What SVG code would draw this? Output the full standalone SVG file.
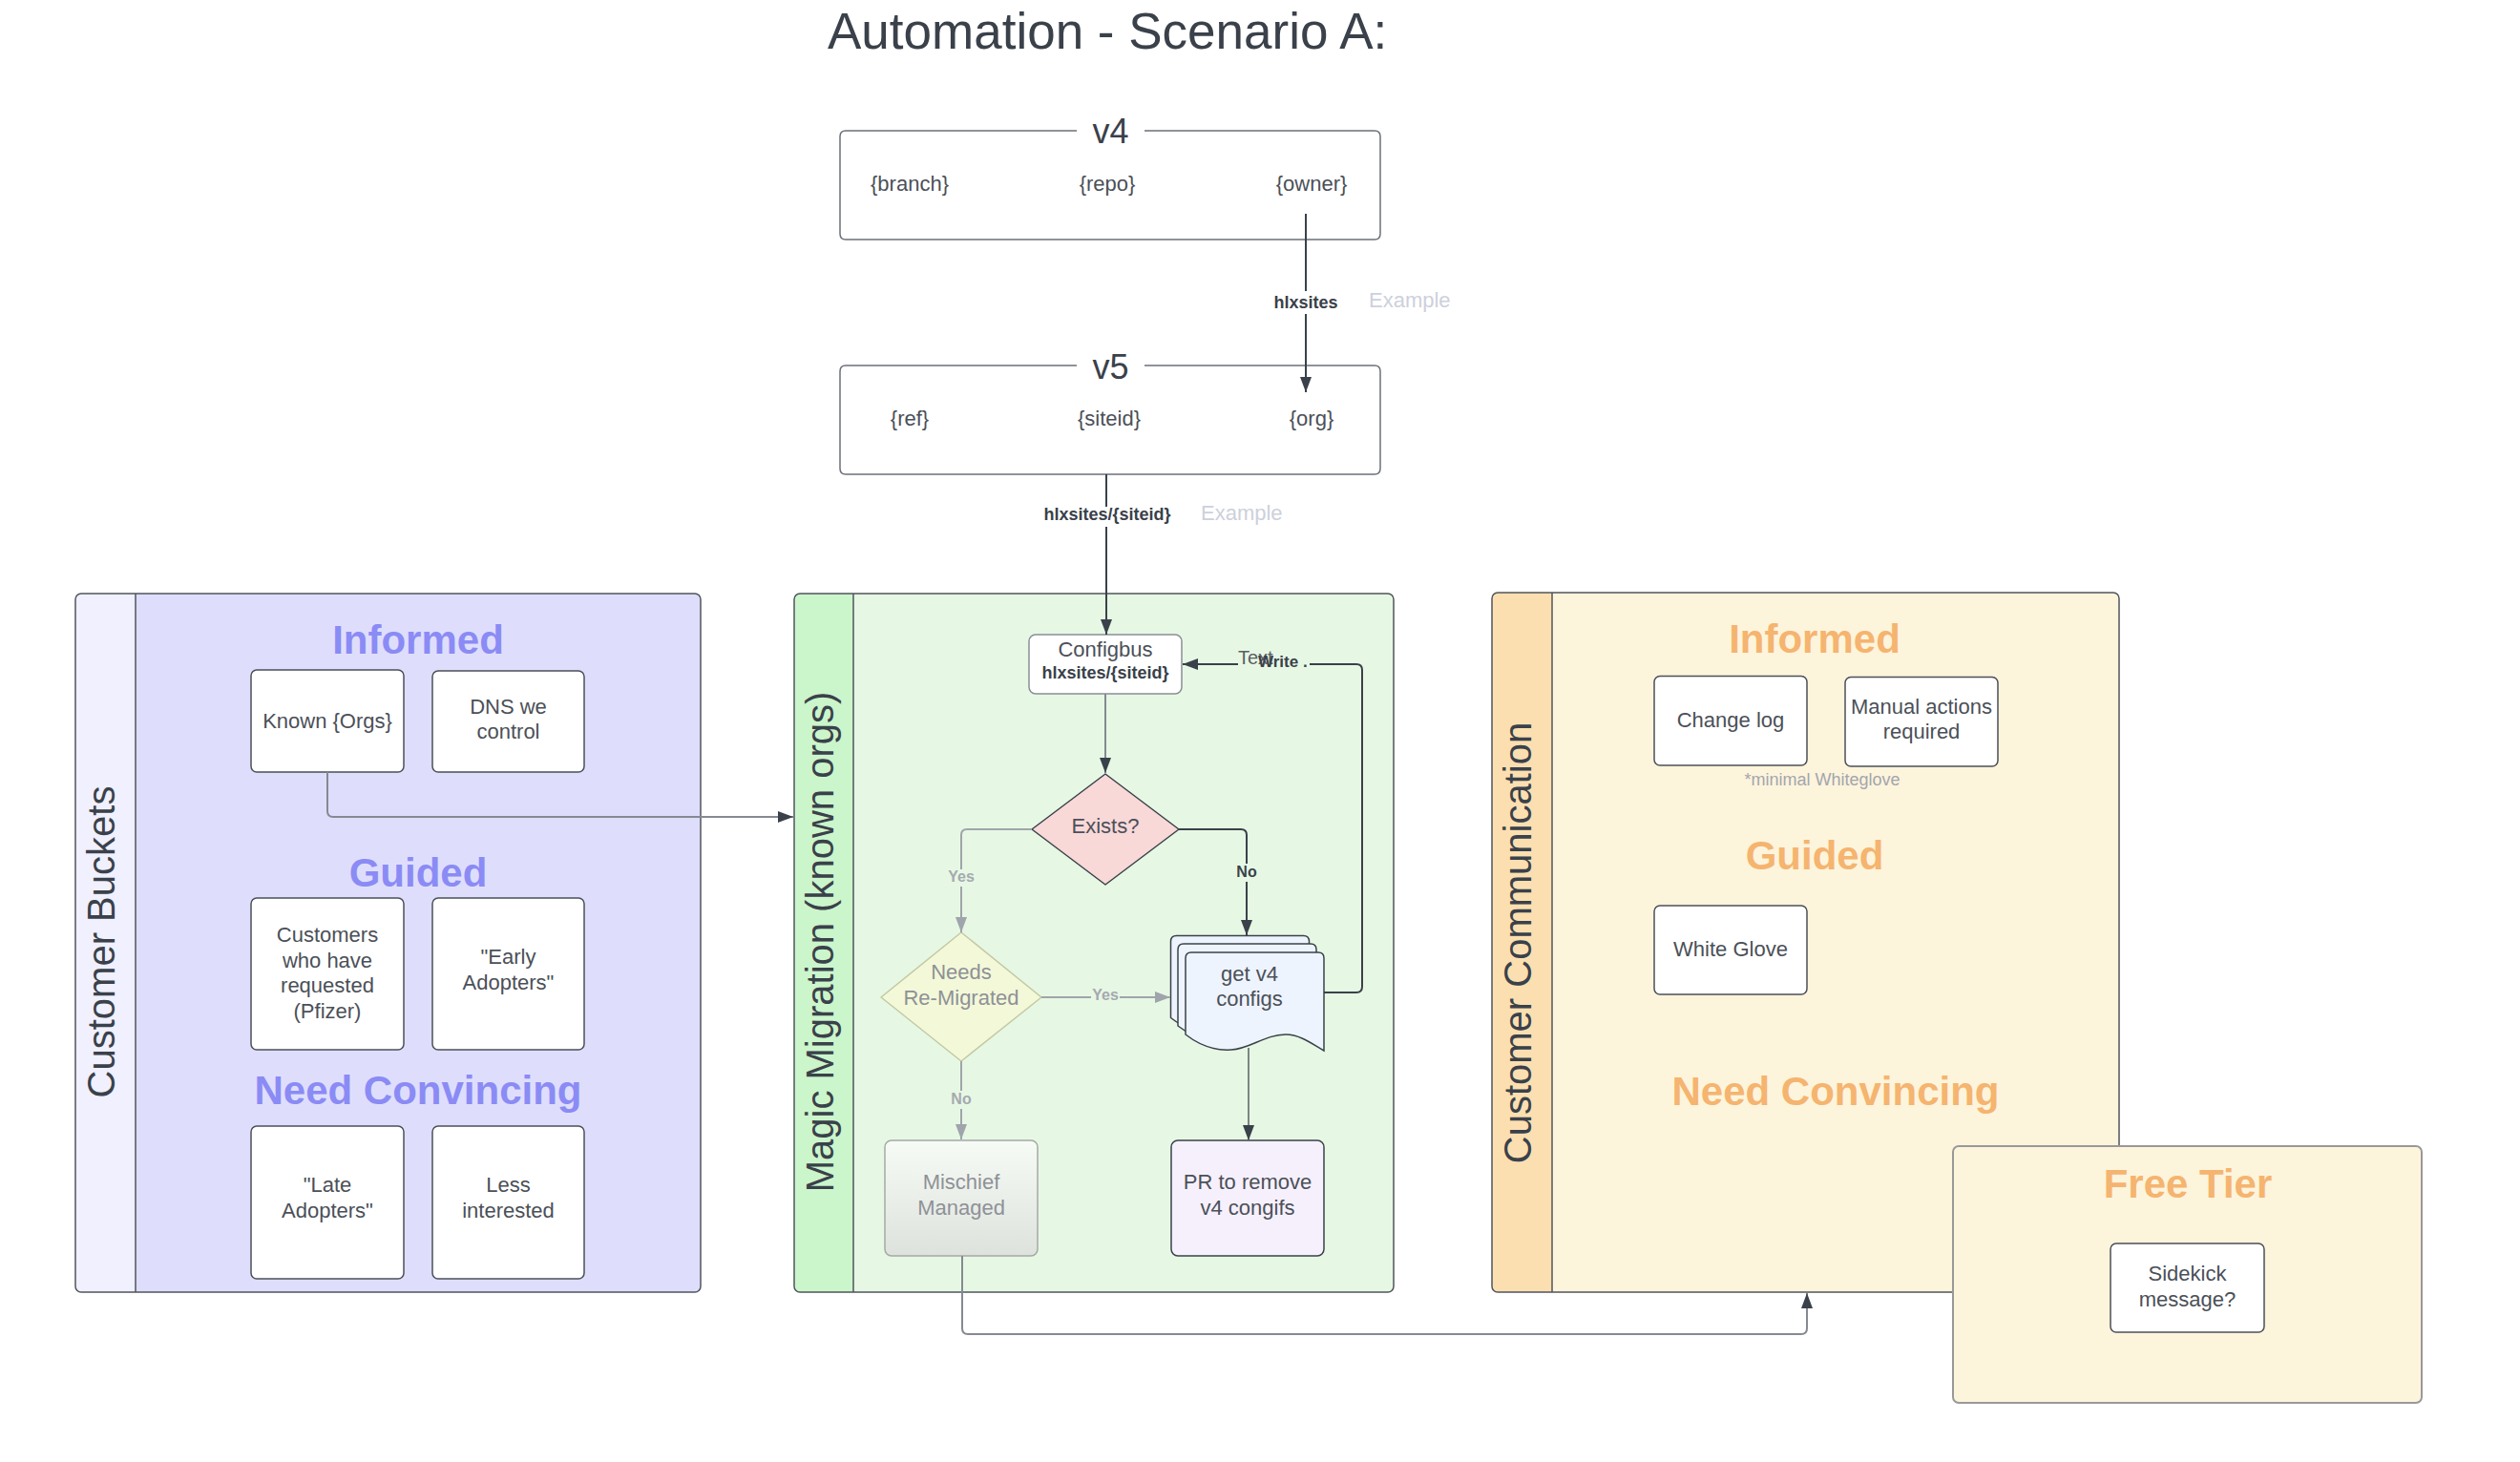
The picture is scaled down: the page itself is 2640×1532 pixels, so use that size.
<svg xmlns="http://www.w3.org/2000/svg" width="2640" height="1532" viewBox="0 0 2640 1532">
<style>
text{font-family:"Liberation Sans",Arial,sans-serif}
.t{font-size:22px;fill:#4b5058;text-anchor:middle}
.tg{font-size:22px;fill:#8e9197;text-anchor:middle}
.f{font-size:22px;fill:#4b5058;text-anchor:middle}
.h{font-size:42px;font-weight:bold;text-anchor:middle}
.hp{fill:#8b8bf5}
.ho{fill:#f5b46f}
.rot{font-size:40px;fill:#3a414a;text-anchor:middle}
.box{fill:#fff;stroke:#4b5058;stroke-width:1.5}
.cont{fill:none;stroke:#50555c;stroke-width:1.5}
.ex{font-size:22px;fill:#cdd0dc}
.lb{font-size:18px;font-weight:bold;fill:#3a414a;text-anchor:middle}
.lg{font-size:16px;font-weight:bold;fill:#a6a9b0;text-anchor:middle}
.ld{font-size:16px;font-weight:bold;fill:#3a414a;text-anchor:middle}
.cd{fill:none;stroke:#3a414a;stroke-width:2}
.cg{fill:none;stroke:#a0a4ab;stroke-width:2}
.cm{fill:none;stroke:#858a92;stroke-width:2}
.page{fill:#eef4fe;stroke:#3a414a;stroke-width:1.5}
</style>
<defs>
<marker id="ad" viewBox="0 0 16 12" refX="16" refY="6" markerWidth="16" markerHeight="12" markerUnits="userSpaceOnUse" orient="auto"><path d="M0,0 L16,6 L0,12 z" fill="#3a414a"/></marker>
<marker id="ag" viewBox="0 0 16 12" refX="16" refY="6" markerWidth="16" markerHeight="12" markerUnits="userSpaceOnUse" orient="auto"><path d="M0,0 L16,6 L0,12 z" fill="#a0a4ab"/></marker>
<linearGradient id="mg" x1="0" y1="0" x2="0" y2="1"><stop offset="0" stop-color="#f7fbf6"/><stop offset="1" stop-color="#dee2dd"/></linearGradient>
<path id="doc" d="M1242,1004 Q1242,998 1248,998 L1381,998 Q1387,998 1387,1004 L1387,1101 C1375,1094 1362,1084 1347,1084 C1325,1084 1310,1099 1290,1100 C1275,1101 1260,1098 1242,1084 Z"/>
</defs>
<rect x="0" y="0" width="2640" height="1532" fill="#fff"/>

<text x="867" y="51" font-size="53" fill="#3a414a">Automation - Scenario A:</text>

<g id="v4">
<path d="M1128,137 L886,137 Q880,137 880,143 L880,245 Q880,251 886,251 L1440,251 Q1446,251 1446,245 L1446,143 Q1446,137 1440,137 L1199,137" fill="#fff" stroke="#6b7078" stroke-width="1.5"/>
<text x="1163.5" y="150" font-size="36" fill="#3a414a" text-anchor="middle">v4</text>
<text class="f" x="953" y="200">{branch}</text>
<text class="f" x="1160" y="200">{repo}</text>
<text class="f" x="1374" y="200">{owner}</text>
</g>

<g id="v5">
<path d="M1128,383 L886,383 Q880,383 880,389 L880,491 Q880,497 886,497 L1440,497 Q1446,497 1446,491 L1446,389 Q1446,383 1440,383 L1199,383" fill="#fff" stroke="#6b7078" stroke-width="1.5"/>
<text x="1163.5" y="397" font-size="36" fill="#3a414a" text-anchor="middle">v5</text>
<text class="f" x="953" y="446">{ref}</text>
<text class="f" x="1162" y="446">{siteid}</text>
<text class="f" x="1374" y="446">{org}</text>
</g>

<g id="customer-buckets">
<rect x="79" y="622" width="655" height="732" rx="6" fill="#dedefc"/>
<path d="M142,622 H85 Q79,622 79,628 V1348 Q79,1354 85,1354 H142 Z" fill="#f0f0fe"/>
<line x1="142" y1="622" x2="142" y2="1354" stroke="#50555c" stroke-width="1.5"/>
<rect class="cont" x="79" y="622" width="655" height="732" rx="6"/>
<text class="rot" transform="translate(120,987) rotate(-90)">Customer Buckets</text>
<text class="h hp" x="438" y="685">Informed</text>
<text class="h hp" x="438" y="929">Guided</text>
<text class="h hp" x="438" y="1157">Need Convincing</text>
</g>
<g id="known-orgs"><rect class="box" x="263" y="702" width="160" height="107" rx="6"/><text class="t" x="343" y="763">Known {Orgs}</text></g>
<g id="dns"><rect class="box" x="453" y="703" width="159" height="106" rx="6"/><text class="t" x="532.5" y="748">DNS we</text><text class="t" x="532.5" y="774">control</text></g>
<g id="customers-requested"><rect class="box" x="263" y="941" width="160" height="159" rx="6"/><text class="t" x="343" y="987">Customers</text><text class="t" x="343" y="1013.5">who have</text><text class="t" x="343" y="1040">requested</text><text class="t" x="343" y="1066.5">(Pfizer)</text></g>
<g id="early-adopters"><rect class="box" x="453" y="941" width="159" height="159" rx="6"/><text class="t" x="532.5" y="1010">"Early</text><text class="t" x="532.5" y="1037">Adopters"</text></g>
<g id="late-adopters"><rect class="box" x="263" y="1180" width="160" height="160" rx="6"/><text class="t" x="343" y="1249">"Late</text><text class="t" x="343" y="1275.5">Adopters"</text></g>
<g id="less-interested"><rect class="box" x="453" y="1180" width="159" height="160" rx="6"/><text class="t" x="532.5" y="1249">Less</text><text class="t" x="532.5" y="1275.5">interested</text></g>

<g id="magic-migration">
<rect x="832" y="622" width="628" height="732" rx="6" fill="#e6f8e4"/>
<path d="M894,622 H838 Q832,622 832,628 V1348 Q832,1354 838,1354 H894 Z" fill="#cbf5cb"/>
<line x1="894" y1="622" x2="894" y2="1354" stroke="#50555c" stroke-width="1.5"/>
<rect class="cont" x="832" y="622" width="628" height="732" rx="6"/>
<text class="rot" transform="translate(873,987) rotate(-90)">Magic Migration (known orgs)</text>
</g>
<g id="configbus"><rect x="1078" y="665" width="160" height="62" rx="7" fill="#fff" stroke="#8a8f96" stroke-width="1.5"/><text class="t" x="1158" y="687.5">Configbus</text><text class="lb" x="1158" y="710.5">hlxsites/{siteid}</text></g>
<g id="exists"><path d="M1158,811 L1235,869 L1158,927 L1081,869 Z" fill="#f9d8d8" stroke="#3a414a" stroke-width="1.5" stroke-linejoin="round"/><text class="t" x="1158" y="873">Exists?</text></g>
<g id="needs-remigrated"><path d="M1007,977 L1091,1045 L1007,1112 L923,1045 Z" fill="#f3f8d8" stroke="#c3c9a2" stroke-width="1.5" stroke-linejoin="round"/><text class="tg" x="1007" y="1026">Needs</text><text class="tg" x="1007" y="1053">Re-Migrated</text></g>
<g id="get-v4-configs">
<use href="#doc" class="page" transform="translate(-15.5,-17.5)"/>
<use href="#doc" class="page" transform="translate(-8,-9)"/>
<use href="#doc" class="page"/>
<text class="t" x="1309" y="1028">get v4</text><text class="t" x="1309" y="1054">configs</text>
</g>
<g id="mischief-managed"><rect x="927" y="1195" width="160" height="121" rx="7" fill="url(#mg)" stroke="#a5a9a6" stroke-width="1.5"/><text class="tg" x="1007" y="1246">Mischief</text><text class="tg" x="1007" y="1272.5">Managed</text></g>
<g id="pr-remove"><rect x="1227" y="1195" width="160" height="121" rx="7" fill="#f6f0fd" stroke="#3a414a" stroke-width="1.5"/><text class="t" x="1307" y="1246">PR to remove</text><text class="t" x="1307" y="1272.5">v4 congifs</text></g>

<g id="customer-communication">
<rect x="1563" y="621" width="657" height="733" rx="6" fill="#fdf4dc"/>
<path d="M1626,621 H1569 Q1563,621 1563,627 V1348 Q1563,1354 1569,1354 H1626 Z" fill="#fbdfb0"/>
<line x1="1626" y1="621" x2="1626" y2="1354" stroke="#50555c" stroke-width="1.5"/>
<rect class="cont" x="1563" y="621" width="657" height="733" rx="6"/>
<text class="rot" transform="translate(1604,988) rotate(-90)">Customer Communication</text>
<text class="h ho" x="1901" y="684">Informed</text>
<text class="h ho" x="1901" y="911">Guided</text>
<text class="h ho" x="1923" y="1158">Need Convincing</text>
<text x="1909" y="823" font-size="18" fill="#a3a6ad" text-anchor="middle">*minimal Whiteglove</text>
</g>
<g id="change-log"><rect class="box" x="1733" y="708.5" width="160" height="93.5" rx="6"/><text class="t" x="1813" y="761.5">Change log</text></g>
<g id="manual-actions"><rect class="box" x="1933" y="709.5" width="160" height="93.5" rx="6"/><text class="t" x="2013" y="748">Manual actions</text><text class="t" x="2013" y="774">required</text></g>
<g id="white-glove"><rect class="box" x="1733" y="949" width="160" height="93" rx="6"/><text class="t" x="1813" y="1002">White Glove</text></g>

<g id="free-tier">
<rect x="2046" y="1201" width="491" height="269" rx="6" fill="#fdf4dc" stroke="#999" stroke-width="2"/>
<text class="h ho" x="2292" y="1255">Free Tier</text>
</g>
<g id="sidekick"><rect class="box" x="2211" y="1303" width="161" height="93" rx="6"/><text class="t" x="2291.5" y="1342">Sidekick</text><text class="t" x="2291.5" y="1369">message?</text></g>

<g id="connectors">
<path class="cd" d="M1368,224 V305"/>
<path class="cd" d="M1368,329 V411" marker-end="url(#ad)"/>
<text class="lb" x="1368" y="323">hlxsites</text>
<text class="ex" x="1434" y="322">Example</text>

<path class="cd" d="M1159,497 V531"/>
<path class="cd" d="M1159,552 V665" marker-end="url(#ad)"/>
<text class="lb" x="1160" y="545">hlxsites/{siteid}</text>
<text class="ex" x="1258" y="545">Example</text>

<path class="cm" d="M343,809 V850 Q343,856 349,856 H831" marker-end="url(#ad)"/>

<path class="cm" d="M1158,727 V810" marker-end="url(#ad)"/>

<path class="cg" d="M1081,869 H1013 Q1007,869 1007,875 V911"/>
<path class="cg" d="M1007,929 V977" marker-end="url(#ag)"/>
<text class="lg" x="1007" y="924">Yes</text>

<path class="cd" d="M1235,869 H1300 Q1306,869 1306,875 V905"/>
<path class="cd" d="M1306,924 V980" marker-end="url(#ad)"/>
<text class="ld" x="1306" y="919">No</text>

<path class="cg" d="M1091,1045 H1143"/>
<path class="cg" d="M1173,1045 H1226" marker-end="url(#ag)"/>
<text class="lg" x="1158" y="1048">Yes</text>

<path class="cg" d="M1007,1112 V1143"/>
<path class="cg" d="M1007,1162 V1194" marker-end="url(#ag)"/>
<text class="lg" x="1007" y="1157">No</text>

<path fill="none" stroke="#5a5f66" stroke-width="1.5" d="M1308,1098 V1195" marker-end="url(#ad)"/>

<path class="cd" stroke-width="2.5" d="M1387,1040 H1421 Q1427,1040 1427,1034 V702 Q1427,696 1421,696 H1372"/>
<path class="cd" stroke-width="2.5" d="M1297,696 H1239" marker-end="url(#ad)"/>
<text x="1297" y="696" font-size="20" fill="#5a5f66">Text</text>
<text x="1318" y="699" font-size="17" font-weight="bold" fill="#3a414a">Write .</text>

<path class="cm" d="M1008,1316 V1392 Q1008,1398 1014,1398 H1887 Q1893,1398 1893,1392 V1355" marker-end="url(#ad)"/>
</g>
</svg>
